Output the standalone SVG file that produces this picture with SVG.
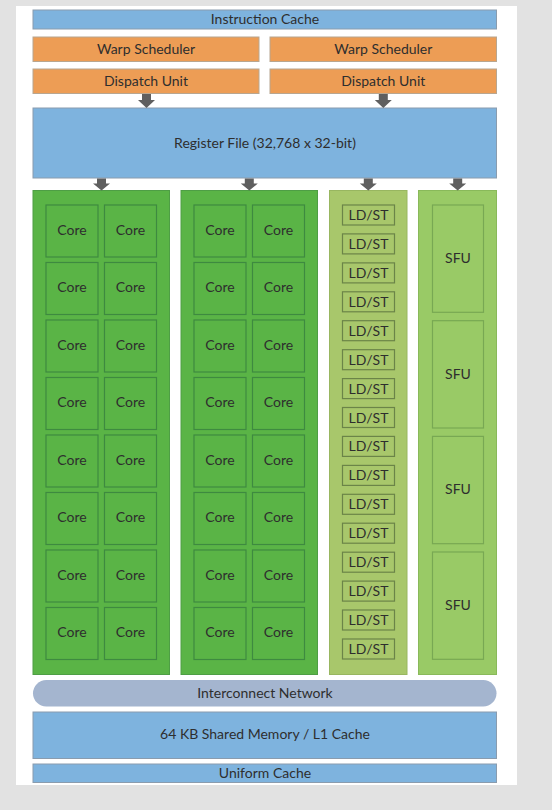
<svg xmlns="http://www.w3.org/2000/svg" width="552" height="810" viewBox="0 0 552 810">
<defs>
<style>
text{font-family:Lato,"Noto Sans","Liberation Sans",sans-serif;font-size:14px;fill:#2e2e2e;text-anchor:middle}
.blue{fill:#7eb3de;stroke:#8a9cae;stroke-width:1}
.orange{fill:#ed9d55;stroke:#b8a690;stroke-width:1}
.col{fill:#5ab446;stroke:#4e9e45;stroke-width:1}
.core{fill:#5ab446;stroke:#3e8a40;stroke-width:1.2}
.ldcol{fill:#a8c76b;stroke:#98b660;stroke-width:1}
.ld{fill:#a8c76b;stroke:#6b8448;stroke-width:1.2}
.sfucol{fill:#99ca66;stroke:#89b95a;stroke-width:1}
.sfu{fill:#99ca66;stroke:#78a853;stroke-width:1.2}
.ic{fill:#a4b5cf}
.arr{fill:#5f5f5f}
</style>
<path id="a1" d="M-4.5,0 h9 v6 h4 l-8.5,8 l-8.5,-8 h4 z"/>
<path id="a2" d="M-4.5,0 h9 v5 h4 l-8.5,7 l-8.5,-7 h4 z"/>
</defs>
<rect x="0" y="0" width="552" height="810" fill="#e2e2e2"/>
<rect x="16" y="6" width="501" height="779" fill="#ffffff"/>

<g id="instruction-cache"><rect class="blue" x="33" y="10" width="463.5" height="19"/><text x="265" y="23.5">Instruction Cache</text></g>
<g id="warp-scheduler-1"><rect class="orange" x="33" y="37" width="226" height="24.5"/><text x="146" y="53.5">Warp Scheduler</text></g>
<g id="warp-scheduler-2"><rect class="orange" x="270" y="37" width="226.5" height="24.5"/><text x="383.3" y="53.5">Warp Scheduler</text></g>
<g id="dispatch-unit-1"><rect class="orange" x="33" y="69" width="226" height="24.5"/><text x="146" y="85.5">Dispatch Unit</text></g>
<g id="dispatch-unit-2"><rect class="orange" x="270" y="69" width="226.5" height="24.5"/><text x="383.3" y="85.5">Dispatch Unit</text></g>
<g id="register-file"><rect class="blue" x="33" y="108" width="463.5" height="70"/><text x="265" y="147.5">Register File (32,768 x 32-bit)</text></g>

<g id="core-group-1">
<rect class="col" x="33" y="190.5" width="136.5" height="484"/>
<g id="cores-1">
<rect class="core" x="46" y="205" width="52" height="52"/><rect class="core" x="104.5" y="205" width="52" height="52"/>
<rect class="core" x="46" y="262.5" width="52" height="52"/><rect class="core" x="104.5" y="262.5" width="52" height="52"/>
<rect class="core" x="46" y="320" width="52" height="52"/><rect class="core" x="104.5" y="320" width="52" height="52"/>
<rect class="core" x="46" y="377.5" width="52" height="52"/><rect class="core" x="104.5" y="377.5" width="52" height="52"/>
<rect class="core" x="46" y="435" width="52" height="52"/><rect class="core" x="104.5" y="435" width="52" height="52"/>
<rect class="core" x="46" y="492.5" width="52" height="52"/><rect class="core" x="104.5" y="492.5" width="52" height="52"/>
<rect class="core" x="46" y="550" width="52" height="52"/><rect class="core" x="104.5" y="550" width="52" height="52"/>
<rect class="core" x="46" y="607.5" width="52" height="52"/><rect class="core" x="104.5" y="607.5" width="52" height="52"/>
</g>
<g>
<text x="72" y="234.5">Core</text><text x="130.5" y="234.5">Core</text>
<text x="72" y="292">Core</text><text x="130.5" y="292">Core</text>
<text x="72" y="349.5">Core</text><text x="130.5" y="349.5">Core</text>
<text x="72" y="407">Core</text><text x="130.5" y="407">Core</text>
<text x="72" y="464.5">Core</text><text x="130.5" y="464.5">Core</text>
<text x="72" y="522">Core</text><text x="130.5" y="522">Core</text>
<text x="72" y="579.5">Core</text><text x="130.5" y="579.5">Core</text>
<text x="72" y="637">Core</text><text x="130.5" y="637">Core</text>
</g>
</g>

<g id="core-group-2">
<rect class="col" x="181" y="190.5" width="136.5" height="484"/>
<g>
<rect class="core" x="194" y="205" width="52" height="52"/><rect class="core" x="252.5" y="205" width="52" height="52"/>
<rect class="core" x="194" y="262.5" width="52" height="52"/><rect class="core" x="252.5" y="262.5" width="52" height="52"/>
<rect class="core" x="194" y="320" width="52" height="52"/><rect class="core" x="252.5" y="320" width="52" height="52"/>
<rect class="core" x="194" y="377.5" width="52" height="52"/><rect class="core" x="252.5" y="377.5" width="52" height="52"/>
<rect class="core" x="194" y="435" width="52" height="52"/><rect class="core" x="252.5" y="435" width="52" height="52"/>
<rect class="core" x="194" y="492.5" width="52" height="52"/><rect class="core" x="252.5" y="492.5" width="52" height="52"/>
<rect class="core" x="194" y="550" width="52" height="52"/><rect class="core" x="252.5" y="550" width="52" height="52"/>
<rect class="core" x="194" y="607.5" width="52" height="52"/><rect class="core" x="252.5" y="607.5" width="52" height="52"/>
</g>
<g>
<text x="220" y="234.5">Core</text><text x="278.5" y="234.5">Core</text>
<text x="220" y="292">Core</text><text x="278.5" y="292">Core</text>
<text x="220" y="349.5">Core</text><text x="278.5" y="349.5">Core</text>
<text x="220" y="407">Core</text><text x="278.5" y="407">Core</text>
<text x="220" y="464.5">Core</text><text x="278.5" y="464.5">Core</text>
<text x="220" y="522">Core</text><text x="278.5" y="522">Core</text>
<text x="220" y="579.5">Core</text><text x="278.5" y="579.5">Core</text>
<text x="220" y="637">Core</text><text x="278.5" y="637">Core</text>
</g>
</g>

<g id="ldst-group">
<rect class="ldcol" x="329.5" y="190.5" width="77.5" height="484"/>
<g>
<rect class="ld" x="342.5" y="205" width="52" height="20"/>
<rect class="ld" x="342.5" y="233.9" width="52" height="20"/>
<rect class="ld" x="342.5" y="262.9" width="52" height="20"/>
<rect class="ld" x="342.5" y="291.8" width="52" height="20"/>
<rect class="ld" x="342.5" y="320.7" width="52" height="20"/>
<rect class="ld" x="342.5" y="349.7" width="52" height="20"/>
<rect class="ld" x="342.5" y="378.6" width="52" height="20"/>
<rect class="ld" x="342.5" y="407.5" width="52" height="20"/>
<rect class="ld" x="342.5" y="436.4" width="52" height="20"/>
<rect class="ld" x="342.5" y="465.4" width="52" height="20"/>
<rect class="ld" x="342.5" y="494.3" width="52" height="20"/>
<rect class="ld" x="342.5" y="523.2" width="52" height="20"/>
<rect class="ld" x="342.5" y="552.2" width="52" height="20"/>
<rect class="ld" x="342.5" y="581.1" width="52" height="20"/>
<rect class="ld" x="342.5" y="610" width="52" height="20"/>
<rect class="ld" x="342.5" y="639" width="52" height="20"/>
</g>
<g>
<text x="368.5" y="220">LD/ST</text>
<text x="368.5" y="248.9">LD/ST</text>
<text x="368.5" y="277.9">LD/ST</text>
<text x="368.5" y="306.8">LD/ST</text>
<text x="368.5" y="335.7">LD/ST</text>
<text x="368.5" y="364.7">LD/ST</text>
<text x="368.5" y="393.6">LD/ST</text>
<text x="368.5" y="422.5">LD/ST</text>
<text x="368.5" y="451.4">LD/ST</text>
<text x="368.5" y="480.4">LD/ST</text>
<text x="368.5" y="509.3">LD/ST</text>
<text x="368.5" y="538.2">LD/ST</text>
<text x="368.5" y="567.2">LD/ST</text>
<text x="368.5" y="596.1">LD/ST</text>
<text x="368.5" y="625">LD/ST</text>
<text x="368.5" y="654">LD/ST</text>
</g>
</g>

<g id="sfu-group">
<rect class="sfucol" x="418.5" y="190.5" width="78" height="484"/>
<rect class="sfu" x="432.5" y="205" width="51" height="107.3"/>
<rect class="sfu" x="432.5" y="320.7" width="51" height="107.3"/>
<rect class="sfu" x="432.5" y="436.4" width="51" height="107.3"/>
<rect class="sfu" x="432.5" y="552" width="51" height="107.3"/>
<text x="458" y="263">SFU</text>
<text x="458" y="378.7">SFU</text>
<text x="458" y="494.4">SFU</text>
<text x="458" y="610">SFU</text>
</g>

<g id="interconnect-network"><rect class="ic" x="33" y="680" width="463.5" height="26.5" rx="13.25"/><text x="265" y="697.5">Interconnect Network</text></g>
<g id="shared-memory"><rect class="blue" x="33" y="712" width="463.5" height="46.5"/><text x="265" y="739">64 KB Shared Memory / L1 Cache</text></g>
<g id="uniform-cache"><rect class="blue" x="33" y="764" width="463.5" height="18.5"/><text x="265" y="777.5">Uniform Cache</text></g>

<g id="connectors">
<use href="#a1" class="arr" x="146.5" y="94"/>
<use href="#a1" class="arr" x="383.3" y="94"/>
<use href="#a2" class="arr" x="101.5" y="178.5"/>
<use href="#a2" class="arr" x="249.3" y="178.5"/>
<use href="#a2" class="arr" x="368.3" y="178.5"/>
<use href="#a2" class="arr" x="457.7" y="178.5"/>
</g>
</svg>
